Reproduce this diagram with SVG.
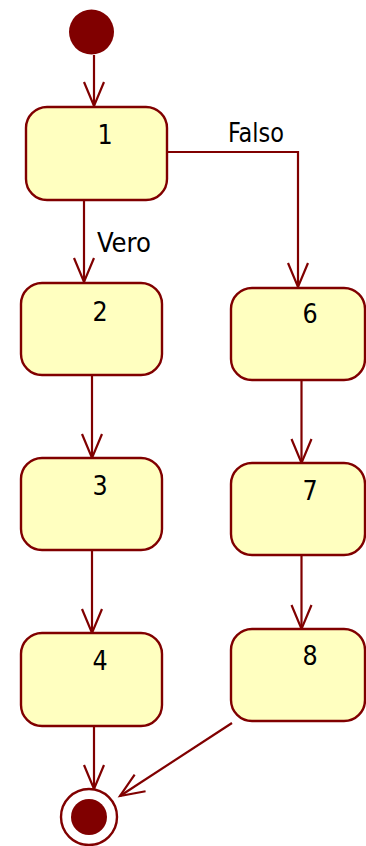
<svg xmlns="http://www.w3.org/2000/svg" width="366" height="846" viewBox="0 0 366 846">
<style>
.st{fill:#FFFFC0;stroke:#800000;stroke-width:2.4}
.ln{fill:none;stroke:#800000;stroke-width:2.2}
.tx{font-family:"DejaVu Sans Condensed","DejaVu Sans",sans-serif;font-stretch:condensed;font-size:26.5px;fill:#000}
.num{text-anchor:middle}
</style>
<defs>
<marker id="ah" markerUnits="userSpaceOnUse" markerWidth="30" markerHeight="26" viewBox="-26 -13 30 26" refX="0" refY="0" orient="auto">
<path d="M-24,-10 L0,0 L-24,10" fill="none" stroke="#800000" stroke-width="2.2"/>
</marker>
</defs>
<rect width="366" height="846" fill="#fff"/>
<g id="connectors">
<path class="ln" d="M94,55 V106" marker-end="url(#ah)"/>
<path class="ln" d="M84,200 V282" marker-end="url(#ah)"/>
<path class="ln" d="M167,152 H298 V287" marker-end="url(#ah)"/>
<path class="ln" d="M92,375 V458" marker-end="url(#ah)"/>
<path class="ln" d="M92,550 V633" marker-end="url(#ah)"/>
<path class="ln" d="M301.5,380 V463" marker-end="url(#ah)"/>
<path class="ln" d="M301.5,555 V629" marker-end="url(#ah)"/>
<path class="ln" d="M94,726 V789" marker-end="url(#ah)"/>
<path class="ln" d="M232,723 L120,796" marker-end="url(#ah)"/>
<text class="tx" x="228" y="142" textLength="56" lengthAdjust="spacingAndGlyphs">Falso</text>
<text class="tx" x="97" y="252" textLength="54" lengthAdjust="spacingAndGlyphs">Vero</text>
</g>
<g id="start"><circle cx="91.5" cy="32" r="22.5" fill="#800000"/></g>
<g id="n1"><rect class="st" x="26" y="107" width="141" height="93" rx="21"/><text class="tx num" x="105" y="144">1</text></g>
<g id="n2"><rect class="st" x="21" y="283" width="141" height="92" rx="21"/><text class="tx num" x="100" y="321">2</text></g>
<g id="n3"><rect class="st" x="21" y="458" width="141" height="92" rx="21"/><text class="tx num" x="100" y="495">3</text></g>
<g id="n4"><rect class="st" x="21" y="633" width="141" height="93" rx="21"/><text class="tx num" x="100" y="670">4</text></g>
<g id="n6"><rect class="st" x="231" y="288" width="134" height="92" rx="21"/><text class="tx num" x="310" y="323">6</text></g>
<g id="n7"><rect class="st" x="231" y="463" width="134" height="92" rx="21"/><text class="tx num" x="310" y="500">7</text></g>
<g id="n8"><rect class="st" x="231" y="629" width="134" height="92" rx="21"/><text class="tx num" x="310" y="665">8</text></g>
<g id="end"><circle cx="89" cy="817" r="28" fill="#fff" stroke="#800000" stroke-width="2.4"/><circle cx="89" cy="817" r="18" fill="#800000"/></g>
</svg>
